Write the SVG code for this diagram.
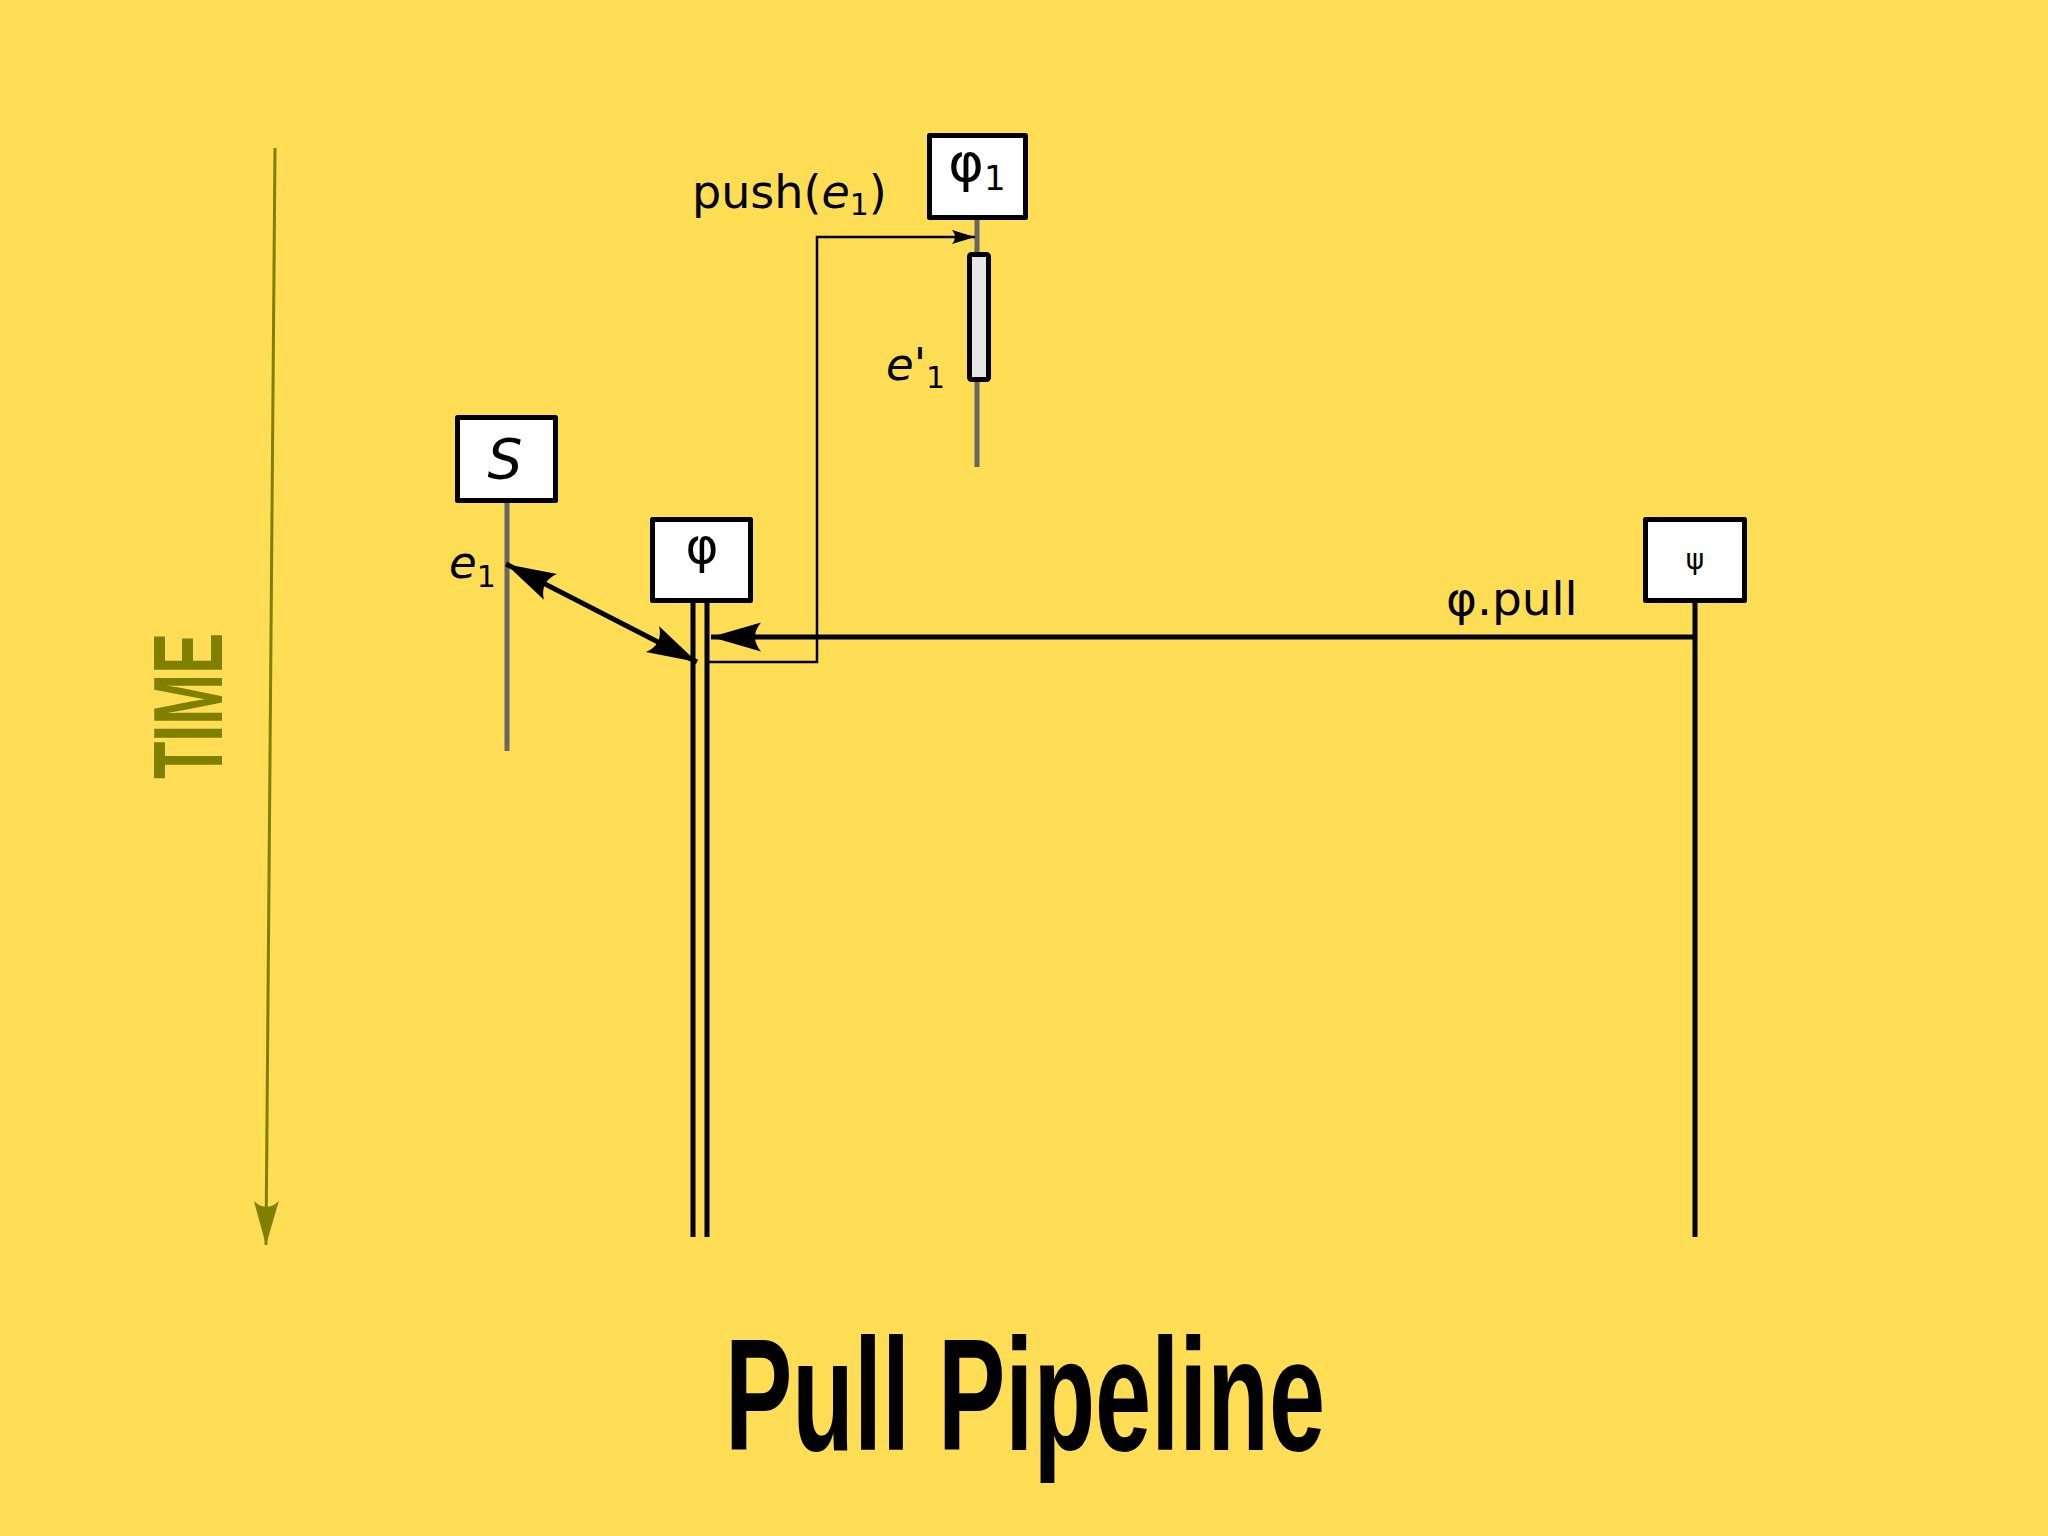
<svg xmlns="http://www.w3.org/2000/svg" width="2048" height="1536" viewBox="0 0 2048 1536">
<style>
.box{fill:#ffffff;stroke:#000;stroke-width:5;stroke-linejoin:round}
.lbl{font-family:"DejaVu Sans",sans-serif;fill:#000}
.gray{stroke:#666;stroke-width:5;fill:none}
.blk{stroke:#000;stroke-width:5;fill:none}
.thin{stroke:#000;stroke-width:2.5;fill:none}
</style>
<defs>
<marker id="big" markerUnits="userSpaceOnUse" markerWidth="60" markerHeight="40" viewBox="-55 -20 60 40" refX="0" refY="0" orient="auto-start-reverse">
<path d="M0,0 L-50,-14.5 Q-38,0 -50,14.5 Z" fill="#000"/>
</marker>
<marker id="small" markerUnits="userSpaceOnUse" markerWidth="30" markerHeight="20" viewBox="-26 -10 30 20" refX="0" refY="0" orient="auto">
<path d="M0,0 L-23,-7 Q-17,0 -23,7 Z" fill="#000"/>
</marker>
<marker id="olive" markerUnits="userSpaceOnUse" markerWidth="50" markerHeight="30" viewBox="-46 -15 50 30" refX="0" refY="0" orient="auto">
<path d="M0,0 L-44,-12.5 Q-32,0 -44,12.5 Z" fill="#808000"/>
</marker>
</defs>
<rect x="0" y="0" width="2048" height="1536" fill="#ffdd55"/>

<g id="time-axis">
<line x1="275" y1="148" x2="266" y2="1245" stroke="#808000" stroke-width="3" marker-end="url(#olive)"/>
<text transform="translate(222,706) rotate(-90)" x="0" y="0" text-anchor="middle" font-family="'Liberation Sans Narrow','Liberation Sans',sans-serif" font-weight="bold" font-size="98" fill="#808000" textLength="146" lengthAdjust="spacingAndGlyphs">TIME</text>
</g>

<g id="connectors">
<line class="gray" x1="977" y1="220" x2="977" y2="467"/>
<line class="gray" x1="507" y1="503" x2="507" y2="751"/>
<line class="blk" x1="693" y1="603" x2="693" y2="1237"/>
<line class="blk" x1="707" y1="603" x2="707" y2="1237"/>
<line class="blk" x1="1695" y1="603" x2="1695" y2="1237"/>
<line class="blk" x1="1695" y1="637" x2="711" y2="637" marker-end="url(#big)"/>
<line class="blk" x1="506" y1="564" x2="697" y2="662" marker-start="url(#big)" marker-end="url(#big)"/>
<path class="thin" d="M707,662 H817 V237 H975" marker-end="url(#small)"/>
</g>

<g id="activation">
<rect x="969.5" y="254.5" width="19" height="125" rx="2" fill="#e6e6e6" stroke="#000" stroke-width="5"/>
</g>

<g id="node-phi1">
<rect class="box" x="929.5" y="135.5" width="96" height="82"/>
<text class="lbl" x="977" y="181" font-size="54" text-anchor="middle">φ<tspan font-size="34" dy="9">1</tspan></text>
</g>

<g id="node-S">
<rect class="box" x="457.5" y="417.5" width="98" height="83"/>
<text class="lbl" x="505" y="478" font-size="55" font-style="italic" text-anchor="middle">S</text>
</g>

<g id="node-phi">
<rect class="box" x="652.5" y="519.5" width="98" height="81"/>
<text class="lbl" x="702" y="563" font-size="50" text-anchor="middle">φ</text>
</g>

<g id="node-psi">
<rect class="box" x="1645.5" y="519.5" width="99" height="81"/>
<text class="lbl" x="1695" y="569" font-size="28" text-anchor="middle">ψ</text>
</g>

<g id="labels">
<text class="lbl" x="692" y="208" font-size="46">push(<tspan font-style="italic">e</tspan><tspan font-size="30" dy="7">1</tspan><tspan dy="-7">)</tspan></text>
<text class="lbl" x="886" y="380" font-size="45"><tspan font-style="italic">e</tspan>'<tspan font-size="30" dy="8">1</tspan></text>
<text class="lbl" x="449" y="578" font-size="45"><tspan font-style="italic">e</tspan><tspan font-size="30" dy="9">1</tspan></text>
<text class="lbl" x="1446" y="615" font-size="47">φ.pull</text>
</g>

<g id="title">
<text x="1025" y="1450" text-anchor="middle" font-family="'Liberation Sans Narrow','Liberation Sans',sans-serif" font-weight="bold" font-size="160" fill="#000" textLength="600" lengthAdjust="spacingAndGlyphs">Pull Pipeline</text>
</g>
</svg>
